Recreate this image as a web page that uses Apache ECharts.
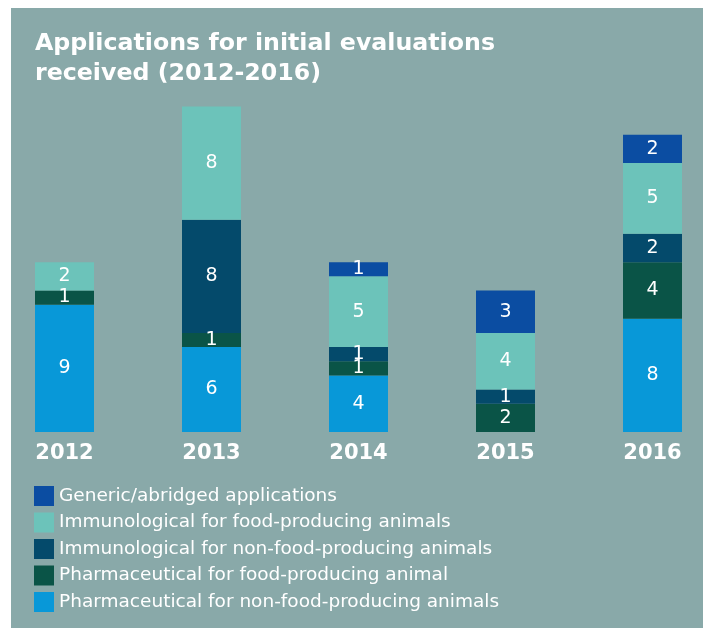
<!DOCTYPE html>
<html>
<head>
<meta charset="utf-8">
<script src="https://cdn.jsdelivr.net/npm/echarts@6/dist/echarts.min.js"></script>
<style>
html,body{margin:0;padding:0;background:#ffffff;width:708px;height:635px;overflow:hidden;}
#panel{position:absolute;left:11px;top:8px;width:692px;height:620px;background:#89a9a9;}
#chart{position:absolute;left:0;top:0;width:708px;height:635px;}
</style>
</head>
<body>
<div id="panel"></div>
<div id="chart"></div>
<script>
const years = ['2012', '2013', '2014', '2015', '2016'];
const pharmNonFood = [9, 6, 4, 0, 8];
const pharmFood = [1, 1, 1, 2, 4];
const immunoNonFood = [0, 8, 1, 1, 2];
const immunoFood = [2, 8, 5, 4, 5];
const generic = [0, 0, 1, 3, 2];

const names = {
  generic: 'Generic/abridged applications',
  immunoFood: 'Immunological for food-producing animals',
  immunoNonFood: 'Immunological for non-food-producing animals',
  pharmFood: 'Pharmaceutical for food-producing animal',
  pharmNonFood: 'Pharmaceutical for non-food-producing animals'
};
const colors = {
  generic: '#0b4da2',
  immunoFood: '#6cc3ba',
  immunoNonFood: '#044a6b',
  pharmFood: '#0a5447',
  pharmNonFood: '#0898d8'
};

function mk(key, data) {
  return {
    name: names[key],
    type: 'bar',
    stack: 'total',
    barWidth: 59,
    clip: false,
    data: data.map(v => v === 0 ? null : v),
    itemStyle: { color: colors[key] },
    label: {
      show: true,
      position: 'inside',
      color: '#ffffff',
      fontFamily: 'DejaVu Sans',
      fontSize: 19,
      formatter: p => p.value
    }
  };
}

const chart = echarts.init(document.getElementById('chart'), null, { renderer: 'canvas' });
chart.setOption({
  animation: false,
  backgroundColor: 'transparent',
  title: {
    text: 'Applications for initial evaluations\nreceived (2012-2016)',
    left: 35,
    top: 29,
    padding: 0,
    textStyle: {
      color: '#ffffff',
      fontFamily: 'DejaVu Sans',
      fontWeight: 'bold',
      fontSize: 23.7,
      lineHeight: 30
    }
  },
  legend: {
    orient: 'vertical',
    left: 34,
    top: 486,
    padding: 0,
    itemWidth: 20,
    itemHeight: 20,
    itemGap: 6.5,
    icon: 'rect',
    data: [names.generic, names.immunoFood, names.immunoNonFood, names.pharmFood, names.pharmNonFood],
    textStyle: { color: '#ffffff', fontFamily: 'DejaVu Sans', fontSize: 18.5 }
  },
  grid: { left: 64.5, right: 55.5, top: 106.5, bottom: 203, containLabel: false },
  xAxis: {
    type: 'category',
    data: years,
    boundaryGap: false,
    axisLine: { show: false },
    axisTick: { show: false },
    axisLabel: {
      color: '#ffffff',
      fontFamily: 'DejaVu Sans',
      fontWeight: 'bold',
      fontSize: 21,
      margin: 11
    }
  },
  yAxis: {
    type: 'value',
    min: 0,
    max: 23,
    show: false,
    splitLine: { show: false }
  },
  series: [
    mk('pharmNonFood', pharmNonFood),
    mk('pharmFood', pharmFood),
    mk('immunoNonFood', immunoNonFood),
    mk('immunoFood', immunoFood),
    mk('generic', generic)
  ]
});
</script>
</body>
</html>
